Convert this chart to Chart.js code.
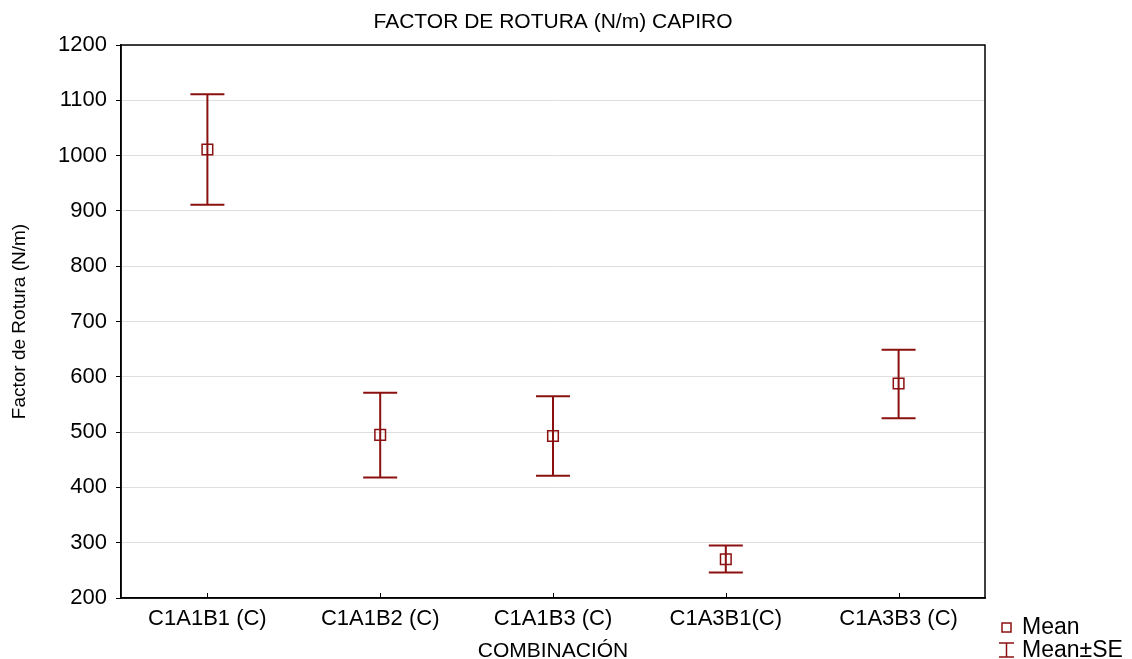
<!DOCTYPE html>
<html>
<head>
<meta charset="utf-8">
<script src="https://cdn.jsdelivr.net/npm/chart.js@4.4.0/dist/chart.umd.min.js"></script>
<style>
  html, body { margin: 0; padding: 0; background: #fff; }
  #wrap { width: 1132px; height: 659px; }
</style>
</head>
<body>
<div id="wrap"><canvas id="myChart"></canvas></div>
<script>
const categories = ['C1A1B1 (C)', 'C1A1B2 (C)', 'C1A1B3 (C)', 'C1A3B1(C)', 'C1A3B3 (C)'];
const means = [1011, 495, 493, 270, 588];
const upper = [1111, 571, 565, 295, 649];
const lower = [911, 418, 421, 246, 525];
const yTicks = [200, 300, 400, 500, 600, 700, 800, 900, 1000, 1100, 1200];

const red = '#8b1010';
const FONT = "'Liberation Sans', Arial, sans-serif";

// whiskers, frame, inner x ticks, title and legend
const extras = {
  id: 'extras',
  afterDatasetsDraw(chart) {
    const c = chart.ctx, x = chart.scales.x, y = chart.scales.y, a = chart.chartArea;
    c.save();
    c.strokeStyle = red;
    c.lineWidth = 2;
    for (let i = 0; i < means.length; i++) {
      const px = x.getPixelForValue(i);
      const pt = y.getPixelForValue(upper[i]);
      const pb = y.getPixelForValue(lower[i]);
      c.beginPath();
      c.moveTo(px, pt); c.lineTo(px, pb);
      c.moveTo(px - 17, pt); c.lineTo(px + 17, pt);
      c.moveTo(px - 17, pb); c.lineTo(px + 17, pb);
      c.stroke();
    }
    // frame
    c.strokeStyle = '#000';
    c.lineWidth = 1.5;
    c.strokeRect(a.left, a.top, a.right - a.left, a.bottom - a.top);
    // inner ticks on x axis
    c.lineWidth = 1;
    for (let i = 0; i < categories.length; i++) {
      const px = Math.round(x.getPixelForValue(i)) + 0.5;
      c.beginPath(); c.moveTo(px, a.bottom); c.lineTo(px, a.bottom - 5); c.stroke();
    }
    // title
    c.fillStyle = '#000';
    c.font = '21px ' + FONT;
    c.textAlign = 'center';
    c.textBaseline = 'middle';
    c.fillText('FACTOR DE ROTURA (N/m) CAPIRO', (a.left + a.right) / 2, 22);
    // legend
    c.textAlign = 'left';
    c.font = '23px ' + FONT;
    c.strokeStyle = red;
    c.lineWidth = 1.5;
    c.strokeRect(1002, 623, 9, 9);
    c.fillText('Mean', 1022, 628);
    c.beginPath();
    c.moveTo(1006.5, 643); c.lineTo(1006.5, 657);
    c.moveTo(999, 643); c.lineTo(1014, 643);
    c.moveTo(999, 657); c.lineTo(1014, 657);
    c.stroke();
    c.fillText('Mean\u00b1SE', 1022, 651);
    c.restore();
  }
};

const ctx = document.getElementById('myChart').getContext('2d');
const myChart = new Chart(ctx, {
  type: 'line',
  data: {
    labels: categories,
    datasets: [{
      label: 'Mean',
      data: means,
      showLine: false,
      pointStyle: 'rect',
      pointRadius: 7.5,
      pointHoverRadius: 7.5,
      pointBorderWidth: 1.5,
      pointBorderColor: red,
      pointBackgroundColor: 'rgba(0,0,0,0)'
    }]
  },
  options: {
    responsive: true,
    maintainAspectRatio: false,
    animation: false,
    layout: { padding: { left: 0, right: 147, top: 45, bottom: 0 } },
    plugins: {
      legend: { display: false },
      title: { display: false },
      tooltip: { enabled: false }
    },
    scales: {
      x: {
        offset: true,
        grid: { display: false, drawTicks: false },
        border: { display: true, color: '#000', width: 1.5 },
        ticks: { color: '#000', font: { size: 22, family: FONT }, padding: 8, maxRotation: 0 },
        title: { display: true, text: 'COMBINACIÓN', color: '#000', font: { size: 21, family: FONT, lineHeight: 1 }, padding: { top: 0, bottom: -3 } },
        afterFit(scale) { scale.height = 61; }
      },
      y: {
        min: 200,
        max: 1200,
        afterBuildTicks(scale) { scale.ticks = yTicks.map(v => ({ value: v })); },
        grid: { color: '#dedede', lineWidth: 1, tickLength: 5, tickColor: '#000' },
        border: { display: true, color: '#000', width: 1.5 },
        ticks: { color: '#000', font: { size: 22, family: FONT }, padding: 9, callback: v => String(v) },
        title: { display: true, text: 'Factor de Rotura (N/m)', color: '#000', font: { size: 19, family: "'Liberation Sans Narrow', " + FONT }, padding: { top: 8, bottom: 0 } },
        afterFit(scale) { scale.width = 121; }
      }
    }
  },
  plugins: [extras]
});
</script>
</body>
</html>
